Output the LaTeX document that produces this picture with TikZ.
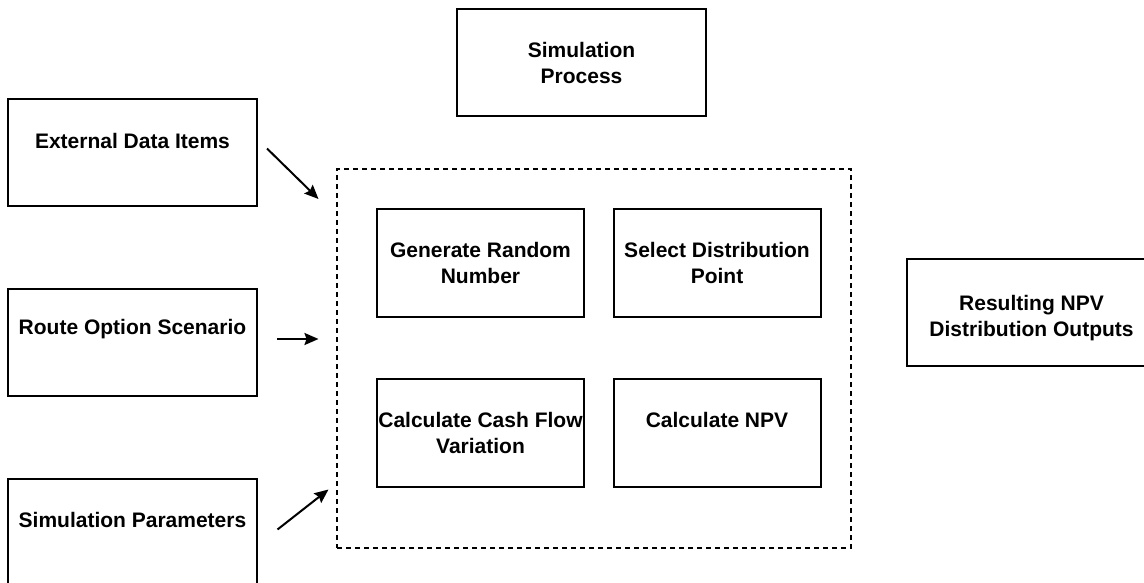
\documentclass[tikz,border=0pt]{standalone}
\usepackage{fontspec}
\setmainfont{Liberation Sans}
\usetikzlibrary{arrows.meta}
\begin{document}
\begin{tikzpicture}[x=1pt, y=-1pt,
    box/.style={draw, line width=2pt, minimum width=249pt, minimum height=107pt, inner sep=0pt},
    stepbox/.style={draw, line width=2pt, minimum width=207pt, minimum height=108pt, inner sep=0pt},
    simbox/.style={draw, line width=1.3pt, dash pattern=on 5pt off 4pt, minimum width=514pt, minimum height=379pt, inner sep=0pt},
    lbl/.style={anchor=north, inner sep=0pt, align=center, font=\bfseries\fontsize{21}{25.6}\selectfont},
    arr/.style={-{Stealth[length=14pt, width=12pt, inset=2pt]}, line width=2pt}]

        \useasboundingbox (0,0) rectangle (1144,583);

        % ------------------ Header ------------------

        \node[box] (proc) at (581.5,62.5) {};
        \node[lbl] (procT) at (581.5,42) {Simulation\\Process};

        % ------------------ Inputs ------------------

        % External data
        \node[box] (ext) at (132.5,152.5) {};
        \node[lbl] (extT) at (132.5,133) {External Data Items};

        % Route option
        \node[box] (route) at (132.5,342) {};
        \node[lbl] (routeT) at (132.5,319) {Route Option Scenario};

        % Parameters
        \node[box] (param) at (132.5,532.5) {};
        \node[lbl] (paramT) at (132.5,512) {Simulation Parameters};

        % ------------------ Simulation steps ------------------

        \node[simbox] (sim) at (594,358.5) {};

        \node[stepbox] (rand) at (480.5,263) {};
        \node[lbl] (randT) at (480.5,242) {Generate Random\\Number};

        \node[stepbox] (dist) at (717,263) {};
        \node[lbl] (distT) at (717,242) {Select Distribution\\Point};

        \node[stepbox] (cash) at (480.5,432.5) {};
        \node[lbl] (cashT) at (480.5,412) {Calculate Cash Flow\\Variation};

        \node[stepbox] (npv) at (717,432.5) {};
        \node[lbl] (npvT) at (717,412) {Calculate NPV};

        % ------------------ Output ------------------

        \node[box] (res) at (1031.5,312.5) {};
        \node[lbl] (resT) at (1031.5,295) {Resulting NPV\\Distribution Outputs};

        % Arrows
        \coordinate (extA) at (267,148.5);
        \coordinate (extB) at (318.5,199);
        \coordinate (routeA) at (277,339);
        \coordinate (routeB) at (318.5,339);
        \coordinate (paramA) at (277.5,529.5);
        \coordinate (paramB) at (328.5,489.5);

        \draw[arr] (extA) -- (extB);
        \draw[arr] (routeA) -- (routeB);
        \draw[arr] (paramA) -- (paramB);

    \end{tikzpicture}
\end{document}
